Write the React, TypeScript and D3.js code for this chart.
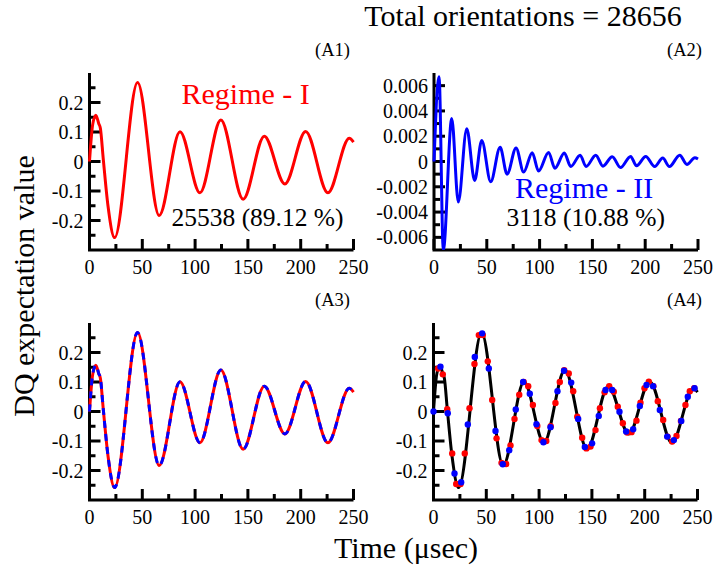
import React from 'react';
import * as d3 from 'd3';

// time axis, usec
const xTicks = [0, 50, 100, 150, 200, 250];
const xTickLabels = ['0', '50', '100', '150', '200', '250'];
const xMinor = [25, 75, 125, 175, 225];

// regime I panels (A1, A3, A4)
const yTicksI = [-0.2, -0.1, 0, 0.1, 0.2];
const yTickLabelsI = ['-0.2', '-0.1', '0', '0.1', '0.2'];
const yMinorI = [-0.25, -0.15, -0.05, 0.05, 0.15, 0.25];

// regime II panel (A2)
const yTicksII = [-0.006, -0.004, -0.002, 0, 0.002, 0.004, 0.006];
const yTickLabelsII = ['-0.006', '-0.004', '-0.002', '0', '0.002', '0.004', '0.006'];
const yMinorII = [-0.005, -0.003, -0.001, 0.001, 0.003, 0.005];

// regime I signal - turning points
const regimeIT = [0, 3, 6, 8.8, 10.3, 13, 17.5, 23.8, 45.5, 66, 85.7, 104.6, 124.4, 145.5, 165.5, 185, 204.7, 225.8, 246, 250];
const regimeIV = [0, 0.125, 0.157, 0.128, 0.113, 0.01, -0.15, -0.258, 0.268, -0.183, 0.101, -0.106, 0.141, -0.128, 0.086, -0.076, 0.102, -0.106, 0.079, 0.066];

// regime II signal
const regimeIIT = [0, 4.8, 8.8, 16.8, 23, 31, 38.5, 45.2, 53.7, 62.6, 69.2, 77.7, 84.9, 93, 99, 108.5, 114.5, 123.4, 129.5, 138.4, 144, 153.2, 160, 168.8, 176.6, 186.2, 191.8, 200.5, 209, 216.6, 222.9, 232.7, 239.5, 247, 250];
const regimeIIV = [0, 0.0067, -0.007, 0.0034, -0.0032, 0.0026, -0.0015, 0.00166, -0.0016, 0.00112, -0.001, 0.00107, -0.00084, 0.0007, -0.00075, 0.00072, -0.00053, 0.00067, -0.0004, 0.0005, -0.0004, 0.0005, -0.00037, 0.00038, -0.00048, 0.0004, -0.00034, 0.0004, -0.0004, 0.00027, -0.0004, 0.0005, -0.00023, 0.0003, 0.0002];

// A4 sampled points
const redDotT = [4.4, 8.8, 13, 17.7, 21.5, 25.6, 29.6, 34.1, 38.8, 42.9, 46.7, 51.4, 55.6, 59.7, 64.4, 68.8, 72.9, 76.7, 81.2, 85.4, 89.7, 94.1, 98.3, 102.3, 106.8, 111, 115.5, 119.6, 123.8, 128.1, 132.3, 136.1, 140.8, 144.8, 148.7, 153.4, 157.6, 162, 166.4, 170.7, 174.5, 179.3, 183.4, 187.5, 192.2, 196, 199.8, 203.9, 208.2, 212.4, 217.5, 221.7, 226, 230.1, 234.3, 238.6, 242.7, 246.9];
const redDotV = [0.146, 0.126, 0.008, -0.142, -0.246, -0.246, -0.142, 0.011, 0.161, 0.259, 0.259, 0.17, 0.039, -0.091, -0.174, -0.178, -0.115, -0.025, 0.057, 0.1, 0.086, 0.022, -0.049, -0.097, -0.1, -0.05, 0.029, 0.1, 0.14, 0.129, 0.069, -0.018, -0.089, -0.125, -0.119, -0.063, 0.011, 0.065, 0.086, 0.067, 0.016, -0.04, -0.071, -0.07, -0.031, 0.03, 0.079, 0.101, 0.086, 0.035, -0.029, -0.085, -0.102, -0.083, -0.032, 0.022, 0.069, 0.079];
const blueDotT = [0, 6.6, 13.5, 19.9, 26.2, 32.5, 39.1, 46.1, 52.4, 58.7, 65.6, 71.7, 77.9, 84.9, 91.2, 97.5, 104.1, 110.8, 117.4, 123.6, 130.4, 137, 143.3, 150.2, 156.5, 162.9, 169.2, 176.1, 182.4, 189.1, 195.4, 201.7, 208, 214.3, 221.3, 227.6, 234.6, 240.8, 247.2];
const blueDotV = [0, 0.152, -0.006, -0.21, -0.24, -0.044, 0.185, 0.265, 0.146, -0.066, -0.179, -0.131, 0.007, 0.1, 0.06, -0.043, -0.104, -0.053, 0.069, 0.138, 0.098, -0.025, -0.12, -0.108, -0.015, 0.073, 0.073, -0.001, -0.068, -0.06, 0.019, 0.09, 0.086, 0.005, -0.085, -0.097, -0.032, 0.05, 0.079];

const FONT = '"Liberation Serif", "Times New Roman", serif';
const RED = '#ff0000';
const BLUE = '#0000ff';

type Box = { left: number; top: number; w: number; h: number };
type Sc = d3.ScaleLinear<number, number>;

const Panel = ({ id, box, yDomain, yTicks, yLabels, yMinor, tag, tagX, children }: {
  id: string; box: Box; yDomain: [number, number]; yTicks: number[]; yLabels: string[]; yMinor: number[];
  tag: string; tagX: number; children: (x: Sc, y: Sc) => React.ReactNode;
}) => {
  const x = d3.scaleLinear().domain([0, 250]).range([box.left, box.left + box.w]);
  const y = d3.scaleLinear().domain(yDomain).range([box.top + box.h, box.top]);
  const bottom = box.top + box.h;
  const major = 11, minor = 6;
  return (
    <g>
      <clipPath id={id}>
        <rect x={box.left - 4} y={box.top - 4} width={box.w + 8} height={box.h + 4} />
      </clipPath>
      {/* axes: left + bottom, ticks inward */}
      <path d={`M${box.left},${box.top}V${bottom}H${box.left + box.w}`} fill="none" stroke="#000" strokeWidth={3} />
      {yTicks.map((v, i) => (
        <g key={'y' + i}>
          <line x1={box.left} x2={box.left + major} y1={y(v)} y2={y(v)} stroke="#000" strokeWidth={3} />
          <text x={box.left - 6} y={y(v) + 7} textAnchor="end" fontSize={20}>{yLabels[i]}</text>
        </g>
      ))}
      {yMinor.map((v, i) => (
        <line key={'ym' + i} x1={box.left} x2={box.left + minor} y1={y(v)} y2={y(v)} stroke="#000" strokeWidth={3} />
      ))}
      {xTicks.map((t, i) => (
        <g key={'x' + i}>
          <line x1={x(t)} x2={x(t)} y1={bottom} y2={bottom - major} stroke="#000" strokeWidth={3} />
          <text x={x(t)} y={bottom + 24} textAnchor="middle" fontSize={20}>{xTickLabels[i]}</text>
        </g>
      ))}
      {xMinor.map((t, i) => (
        <line key={'xm' + i} x1={x(t)} x2={x(t)} y1={bottom} y2={bottom - minor} stroke="#000" strokeWidth={3} />
      ))}
      <g clipPath={`url(#${id})`}>{children(x, y)}</g>
      <text x={tagX} y={box.top - 17} textAnchor="end" fontSize={18.5}>{tag}</text>
    </g>
  );
};

const curvePath = (T: number[], V: number[], x: Sc, y: Sc) =>
  d3.line<number>()
    .x((_, i) => x(T[i]))
    .y(v => y(v))
    .curve(d3.curveMonotoneX)(V) || '';

export default function App() {
  const W = 713, H = 571;
  const A1: Box = { left: 89.5, top: 73, w: 264, h: 177 };
  const A2: Box = { left: 434, top: 73, w: 264, h: 177 };
  const A3: Box = { left: 89.5, top: 323, w: 264, h: 177 };
  const A4: Box = { left: 433.5, top: 323, w: 264, h: 177 };

  return (
    <svg width={W} height={H} style={{ position: 'absolute', left: 0, top: 0, background: '#fff', fontFamily: FONT }}>
      <text x={523} y={26} textAnchor="middle" fontSize={30}>Total orientations = 28656</text>

      <Panel id="c1" box={A1} yDomain={[-0.3, 0.3]} yTicks={yTicksI} yLabels={yTickLabelsI} yMinor={yMinorI}
        tag="(A1)" tagX={350}>
        {(x, y) => (
          <path d={curvePath(regimeIT, regimeIV, x, y)} fill="none" stroke={RED} strokeWidth={3} />
        )}
      </Panel>
      <text x={181.5} y={104} fontSize={30} fill={RED}>Regime - I</text>
      <text x={171.5} y={226} fontSize={25.5}>25538 (89.12 %)</text>

      <Panel id="c2" box={A2} yDomain={[-0.007, 0.007]} yTicks={yTicksII} yLabels={yTickLabelsII} yMinor={yMinorII}
        tag="(A2)" tagX={702}>
        {(x, y) => (
          <path d={curvePath(regimeIIT, regimeIIV, x, y)} fill="none" stroke={BLUE} strokeWidth={3} />
        )}
      </Panel>
      <text x={515} y={198} fontSize={30} fill={BLUE}>Regime - II</text>
      <text x={506.5} y={226} fontSize={25.5}>3118 (10.88 %)</text>

      <Panel id="c3" box={A3} yDomain={[-0.3, 0.3]} yTicks={yTicksI} yLabels={yTickLabelsI} yMinor={yMinorI}
        tag="(A3)" tagX={350}>
        {(x, y) => (
          <g>
            <path d={curvePath(regimeIT, regimeIV, x, y)} fill="none" stroke={RED} strokeWidth={3} />
            <path d={curvePath(regimeIT, regimeIV, x, y)} fill="none" stroke={BLUE} strokeWidth={3} strokeDasharray="7 6" />
          </g>
        )}
      </Panel>

      <Panel id="c4" box={A4} yDomain={[-0.3, 0.3]} yTicks={yTicksI} yLabels={yTickLabelsI} yMinor={yMinorI}
        tag="(A4)" tagX={702}>
        {(x, y) => (
          <g>
            <path d={curvePath(regimeIT, regimeIV, x, y)} fill="none" stroke="#000" strokeWidth={3} />
            {redDotT.map((t, i) => <circle key={'r' + i} cx={x(t)} cy={y(redDotV[i])} r={3.2} fill={RED} />)}
            {blueDotT.map((t, i) => <circle key={'b' + i} cx={x(t)} cy={y(blueDotV[i])} r={3.2} fill={BLUE} />)}
          </g>
        )}
      </Panel>

      <text transform="translate(34,286) rotate(-90)" textAnchor="middle" fontSize={30}>DQ expectation value</text>
      <text x={406} y={558} textAnchor="middle" fontSize={30}>Time (μsec)</text>
    </svg>
  );
}
